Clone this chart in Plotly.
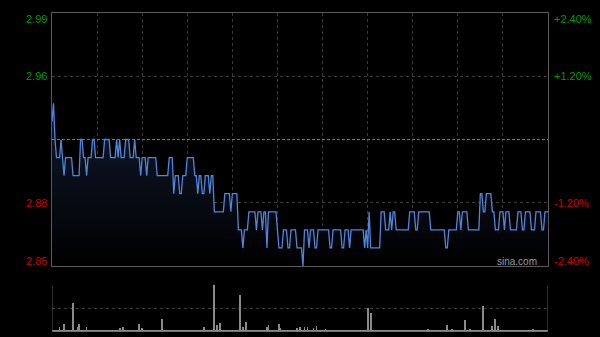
import plotly.graph_objects as go

# ---- data (HK session, minutes from 9:30, 330 trading minutes) ----
prev_close = 2.92
left_labels = ["2.99", "2.96", "2.88", "2.85"]
left_label_vals = [2.9895, 2.955, 2.885, 2.8505]
right_labels = ["+2.40%", "+1.20%", "-1.20%", "-2.40%"]

run_prices = [2.93, 2.94, 2.92, 2.91, 2.92, 2.91, 2.90, 2.91, 2.90, 2.92, 2.91, 2.90, 2.91, 2.92, 2.91, 2.92,
              2.91, 2.92, 2.91, 2.92, 2.91, 2.92, 2.91, 2.92, 2.91, 2.90, 2.91, 2.90, 2.91, 2.90, 2.91, 2.89,
              2.90, 2.89, 2.90, 2.91, 2.90, 2.89, 2.90, 2.89, 2.90, 2.89, 2.90, 2.88, 2.89, 2.88, 2.89, 2.87,
              2.86, 2.87, 2.88, 2.87, 2.88, 2.87, 2.88, 2.86, 2.88, 2.87, 2.86, 2.87, 2.86, 2.87, 2.86, 2.85,
              2.87, 2.86, 2.87, 2.86, 2.87, 2.86, 2.87, 2.86, 2.87, 2.86, 2.87, 2.86, 2.87, 2.86, 2.88, 2.86,
              2.88, 2.87, 2.88, 2.87, 2.88, 2.87, 2.88, 2.87, 2.88, 2.87, 2.86, 2.87, 2.88, 2.87, 2.88, 2.87,
              2.89, 2.88, 2.89, 2.88, 2.87, 2.88, 2.87, 2.88, 2.87, 2.88, 2.87, 2.88, 2.87, 2.88, 2.87, 2.88,
              2.87, 2.88]
run_lengths = [1, 1, 1, 3, 1, 1, 1, 5, 5, 2, 2, 1, 3, 2, 6, 4,
               4, 1, 1, 1, 3, 3, 3, 1, 3, 1, 3, 1, 6, 8, 3, 1,
               3, 2, 3, 5, 2, 1, 2, 2, 3, 1, 2, 7, 4, 1, 4, 3,
               1, 3, 5, 1, 3, 1, 2, 1, 6, 1, 3, 3, 2, 4, 4, 1,
               3, 1, 3, 2, 8, 2, 6, 2, 3, 1, 9, 1, 1, 1, 1, 7,
               3, 3, 1, 1, 2, 9, 4, 2, 8, 10, 2, 6, 2, 1, 4, 8,
               2, 2, 4, 2, 3, 3, 1, 3, 5, 3, 2, 4, 3, 4, 2, 3]

vol_base = 3
vol_minutes = [5, 8, 14, 17, 18, 23, 45, 47, 58, 60, 73, 101, 108, 110, 112, 125, 127, 129,
               143, 144, 151, 152, 163, 165, 168, 170, 174, 176, 182, 210, 212, 250,
               263, 266, 275, 278, 287, 293, 295, 297, 320]
vol_values = [10, 17, 62, 10, 17, 10, 8, 10, 17, 8, 28, 10, 100, 15, 19, 79, 10, 21,
              10, 15, 17, 8, 8, 10, 10, 11, 8, 13, 6, 51, 40, 6,
              15, 6, 26, 6, 55, 13, 28, 13, 6]

# ---- expand ----
prices = []
for p, n in zip(run_prices, run_lengths):
    prices.extend([p] * n)
minutes = list(range(len(prices)))
vol = [vol_base] * len(prices)
for m, v in zip(vol_minutes, vol_values):
    if m < len(vol):
        vol[m] = v

grid_col = "#3a3a3a"
border_col = "#5a5a5a"
green = "#009a00"
red = "#c80000"

fig = go.Figure()
fig.add_trace(go.Scatter(
    x=minutes, y=prices, mode="lines",
    line=dict(color="#4f86dc", width=1.3),
    fill="tozeroy",
    fillgradient=dict(type="vertical",
                      colorscale=[[0, "rgba(0,0,0,1)"], [1, "rgba(16,26,46,1)"]],
                      start=2.85, stop=2.94),
    hoverinfo="skip", xaxis="x", yaxis="y"))
fig.add_trace(go.Bar(
    x=minutes, y=vol, marker=dict(color="#8a8a8a", line=dict(width=0)),
    width=0.55, xaxis="x2", yaxis="y2", hoverinfo="skip"))

fig.update_layout(
    width=600, height=337,
    margin=dict(l=52, r=52, t=13, b=5),
    paper_bgcolor="black", plot_bgcolor="black",
    showlegend=False, bargap=0,
    font=dict(family="Liberation Sans, Arial", size=11),
    xaxis=dict(range=[0, 330], tickvals=list(range(30, 330, 30)), showticklabels=False,
               showgrid=True, gridcolor=grid_col, griddash="dot", gridwidth=1,
               zeroline=False, showline=True, linecolor=border_col, mirror=True,
               anchor="y"),
    yaxis=dict(range=[prev_close - 0.07, prev_close + 0.07], domain=[66 / 319, 1],
               tickvals=[2.885, 2.955], showticklabels=False,
               showgrid=True, gridcolor=grid_col, griddash="dot",
               zeroline=False, showline=True, linecolor=border_col, mirror=True),
    xaxis2=dict(range=[0, 330], showticklabels=False, showgrid=False, zeroline=False,
                anchor="y2", showline=False),
    yaxis2=dict(range=[0, 100], domain=[0, 47 / 319], tickvals=[50, 100], showticklabels=False,
                showgrid=True, gridcolor=grid_col, griddash="dot", zeroline=False,
                showline=False),
)

# previous close line
fig.add_shape(type="line", xref="x", yref="y", x0=0, x1=330, y0=prev_close, y1=prev_close,
              line=dict(color="#777777", width=1, dash="3px,2px"))
# volume panel borders (left, right, bottom solid)
for (x0, y0, x1, y1) in [(0, 0, 0, 100), (330, 0, 330, 100), (0, 0, 330, 0)]:
    fig.add_shape(type="line", xref="x2", yref="y2", x0=x0, y0=y0, x1=x1, y1=y1,
                  line=dict(color=border_col, width=1))

# axis labels
shifts = [-5, 0, 0, 4]
for lab, v, s, rl in zip(left_labels, left_label_vals, shifts, right_labels):
    col = green if v > prev_close else red
    fig.add_annotation(text=lab, xref="paper", x=0, xshift=-3, xanchor="right",
                       yref="y", y=v, yshift=s, showarrow=False, font=dict(color=col, size=11))
    fig.add_annotation(text=rl, xref="paper", x=1, xshift=4, xanchor="left",
                       yref="y", y=v, yshift=s, showarrow=False, font=dict(color=col, size=11))

fig.add_annotation(text="sina.com", xref="paper", x=1, xshift=-9, xanchor="right",
                   yref="y", y=2.8505, yshift=4, showarrow=False,
                   font=dict(color="#9a9a9a", size=10))

fig.write_html("out.html")
